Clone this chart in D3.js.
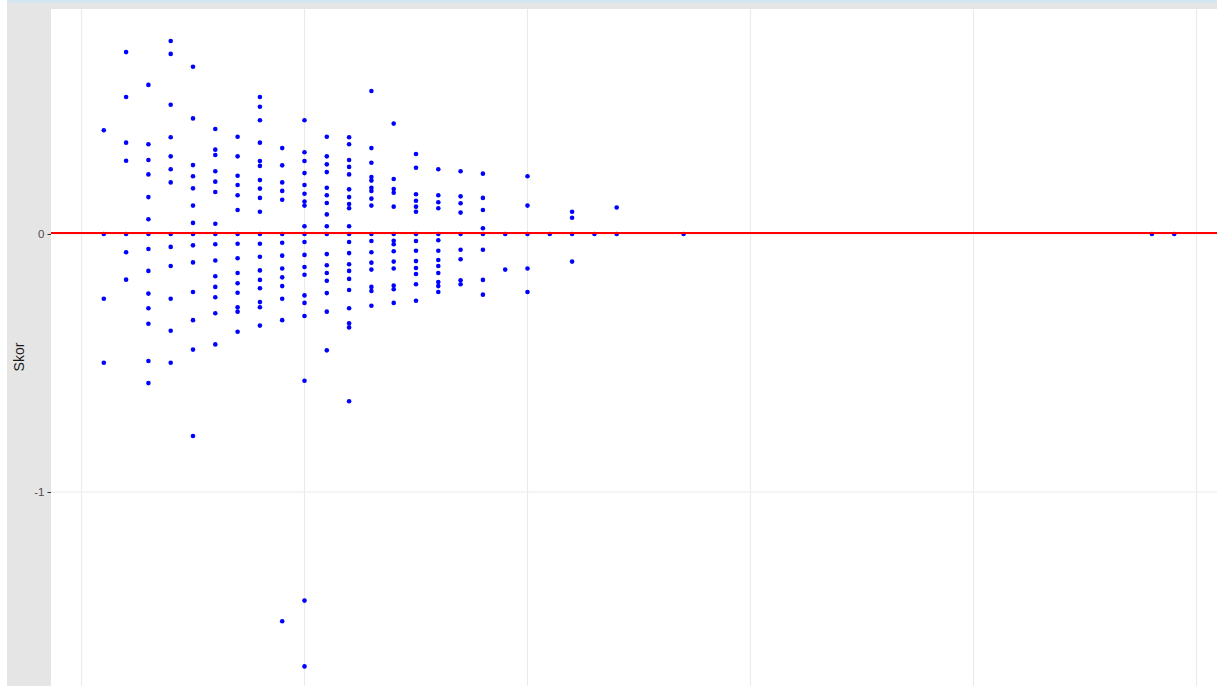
<!DOCTYPE html>
<html>
<head>
<meta charset="utf-8">
<script src="https://cdn.jsdelivr.net/npm/d3@7"></script>
<style>
  html, body { margin: 0; padding: 0; background: #ffffff; overflow: hidden; }
  svg { display: block; }
</style>
</head>
<body>
<svg id="chart" width="1217" height="686"></svg>
<script>
// Each x value (kolom) with the list of scores (skor) observed at it
const kolom = [1, 2, 3, 4, 5, 6, 7, 8, 9, 10, 11, 12, 13, 14, 15, 16, 17, 18, 19, 20, 21, 22, 23, 24, 27, 48, 49];
const skor = [
  [0.402, 0, -0.251, -0.499],
  [0.705, 0.531, 0.354, 0.284, 0, -0.071, -0.177],
  [0.578, 0.348, 0.287, 0.231, 0.143, 0.057, 0, -0.058, -0.143, -0.231, -0.288, -0.348, -0.492, -0.578],
  [0.748, 0.698, 0.501, 0.375, 0.301, 0.251, 0.200, 0, -0.050, -0.124, -0.251, -0.375, -0.499],
  [0.648, 0.448, 0.267, 0.224, 0.177, 0.110, 0.043, 0, -0.044, -0.110, -0.225, -0.334, -0.448, -0.783],
  [0.407, 0.327, 0.306, 0.243, 0.203, 0.163, 0.040, 0, -0.040, -0.103, -0.164, -0.205, -0.245, -0.307, -0.428],
  [0.377, 0.301, 0.226, 0.190, 0.150, 0.093, 0, -0.038, -0.094, -0.151, -0.191, -0.228, -0.284, -0.301, -0.379],
  [0.531, 0.493, 0.441, 0.354, 0.283, 0.264, 0.209, 0.176, 0.140, 0.086, 0, -0.038, -0.088, -0.141, -0.178, -0.210, -0.264, -0.284, -0.355],
  [0.333, 0.266, 0.200, 0.167, 0.133, 0, -0.034, -0.084, -0.134, -0.168, -0.202, -0.251, -0.334, -1.501],
  [0.441, 0.317, 0.283, 0.236, 0.190, 0.156, 0.126, 0.110, 0.030, 0, -0.031, -0.081, -0.128, -0.158, -0.238, -0.267, -0.318, -0.569, -1.421, -1.676],
  [0.377, 0.301, 0.270, 0.240, 0.179, 0.150, 0.120, 0.076, 0.030, 0, -0.078, -0.121, -0.151, -0.181, -0.229, -0.301, -0.451],
  [0.375, 0.348, 0.287, 0.260, 0.231, 0.173, 0.143, 0.116, 0.100, 0.030, 0, -0.031, -0.074, -0.117, -0.143, -0.174, -0.217, -0.288, -0.346, -0.362, -0.648],
  [0.554, 0.333, 0.276, 0.221, 0.207, 0.179, 0.167, 0.137, 0.110, 0, -0.027, -0.071, -0.111, -0.138, -0.205, -0.221, -0.278],
  [0.428, 0.213, 0.174, 0.160, 0.106, 0, -0.026, -0.040, -0.067, -0.107, -0.134, -0.200, -0.214, -0.267],
  [0.310, 0.257, 0.154, 0.129, 0.106, 0.086, 0, -0.027, -0.065, -0.105, -0.132, -0.155, -0.195, -0.259],
  [0.251, 0.150, 0.123, 0.100, 0, -0.024, -0.065, -0.101, -0.124, -0.151, -0.186, -0.202, -0.225],
  [0.243, 0.146, 0.119, 0.083, 0, -0.061, -0.098, -0.179, -0.195],
  [0.234, 0.140, 0.093, 0.022, 0, -0.061, -0.178, -0.235],
  [0, -0.138],
  [0.224, 0.110, 0, -0.134, -0.225],
  [0],
  [0.086, 0.063, 0, -0.107],
  [0],
  [0.103, 0],
  [0],
  [0],
  [0]
];
const xGridValues = [0, 10, 20, 30, 40, 50];
const yTickValues = [0, -1];
const yTickLabels = ["0", "-1"];
const referenceLine = [0];
const yTitle = "Skor";

const svg = d3.select("#chart");
const W = 1217, H = 686;

// Outer layout: plot margin strip on the left/top, white panel to the right
const panel = { left: 51, top: 9, right: 1240, bottom: 720 };

const x = d3.scaleLinear().domain([0, 50]).range([81.5, 1196.5]);
const y = d3.scaleLinear().domain([0, -1]).range([234, 492]);

// Page chrome behind the plot
svg.append("rect").attr("x", 0).attr("y", 0).attr("width", W).attr("height", H).attr("fill", "#ffffff");
svg.append("rect").attr("x", 7).attr("y", 0).attr("width", W - 7).attr("height", 3).attr("fill", "#d3e5ef");
svg.append("rect").attr("x", 7).attr("y", 3).attr("width", W - 7).attr("height", H).attr("fill", "#e5e5e5");

// Panel
svg.append("rect")
  .attr("x", panel.left).attr("y", panel.top)
  .attr("width", panel.right - panel.left).attr("height", panel.bottom - panel.top)
  .attr("fill", "#ffffff");

const clip = svg.append("defs").append("clipPath").attr("id", "panel-clip");
clip.append("rect")
  .attr("x", panel.left).attr("y", panel.top)
  .attr("width", panel.right - panel.left).attr("height", panel.bottom - panel.top);

const g = svg.append("g").attr("clip-path", "url(#panel-clip)");

// Grid lines
g.selectAll("line.vgrid").data(xGridValues).enter().append("line")
  .attr("class", "vgrid")
  .attr("x1", d => x(d)).attr("x2", d => x(d))
  .attr("y1", panel.top).attr("y2", panel.bottom)
  .attr("stroke", "#ebebeb").attr("stroke-width", 1.1);

g.selectAll("line.hgrid").data(yTickValues).enter().append("line")
  .attr("class", "hgrid")
  .attr("x1", panel.left).attr("x2", panel.right)
  .attr("y1", d => y(d)).attr("y2", d => y(d))
  .attr("stroke", "#ebebeb").attr("stroke-width", 1.1);

// Points
const points = [];
kolom.forEach((k, i) => skor[i].forEach(s => points.push({ k, s })));

g.selectAll("circle.pt").data(points).enter().append("circle")
  .attr("class", "pt")
  .attr("cx", d => x(d.k))
  .attr("cy", d => y(d.s))
  .attr("r", 2.3)
  .attr("fill", "#0000ff");

// Reference line at zero
g.selectAll("line.ref").data(referenceLine).enter().append("line")
  .attr("class", "ref")
  .attr("x1", panel.left).attr("x2", panel.right)
  .attr("y1", d => y(d) - 1).attr("y2", d => y(d) - 1)
  .attr("stroke", "#ff0000").attr("stroke-width", 2);

// Y axis
const yAxis = d3.axisLeft(y)
  .tickValues(yTickValues)
  .tickFormat((d, i) => yTickLabels[i])
  .tickSize(3.5)
  .tickPadding(3);

const ya = svg.append("g").attr("transform", `translate(${panel.left},0)`).call(yAxis);
ya.select(".domain").remove();
ya.selectAll(".tick line").attr("stroke", "#333333").attr("stroke-width", 1);
ya.selectAll(".tick text")
  .attr("fill", "#4d4d4d")
  .style("font-family", "'Liberation Sans', Arial, sans-serif")
  .style("font-size", "11.5px");

// Y title
svg.append("text")
  .attr("transform", `translate(24,${(panel.top + 705) / 2}) rotate(-90)`)
  .attr("text-anchor", "middle")
  .attr("fill", "#1a1a1a")
  .style("font-family", "'Liberation Sans', Arial, sans-serif")
  .style("font-size", "14px")
  .text(yTitle);
</script>
</body>
</html>
